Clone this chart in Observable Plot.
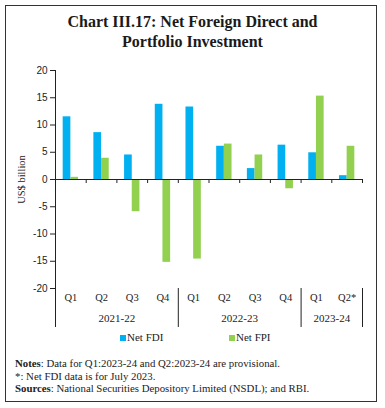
<!DOCTYPE html>
<html><head><meta charset="utf-8">
<script src="https://cdn.jsdelivr.net/npm/d3@7"></script>
<script src="https://cdn.jsdelivr.net/npm/@observablehq/plot@0.6"></script>
<style>
html,body{margin:0;padding:0;background:#fff;}
body{width:385px;height:408px;position:relative;font-family:"Liberation Serif",serif;color:#222;}
#frame{position:absolute;left:5px;top:5px;width:372px;height:397px;border:1px solid #333;box-sizing:border-box;}
#title{position:absolute;left:0;top:12px;width:385px;text-align:center;font-weight:bold;font-size:16px;line-height:20px;color:#1a1a1a;}
#chart{position:absolute;left:0;top:60px;}
#legend{position:absolute;top:331px;left:0;width:385px;font-size:11px;}
#legend span.sw{position:absolute;top:4px;width:6px;height:6px;}
#legend span.lb{position:absolute;top:0;}
#notes{position:absolute;left:15px;top:357px;font-size:10.8px;line-height:12.5px;}
</style>
</head><body>
<div id="frame"></div>
<div id="title">Chart III.17: Net Foreign Direct and<br>Portfolio Investment</div>
<div id="chart"></div>
<div id="legend">
  <span class="sw" style="left:120px;background:#00B0F0"></span><span class="lb" style="left:127px">Net FDI</span>
  <span class="sw" style="left:229px;background:#92D050"></span><span class="lb" style="left:236px">Net FPI</span>
</div>
<div id="notes">
  <div><b>Notes</b>: Data for Q1:2023-24 and Q2:2023-24 are provisional.</div>
  <div>*: Net FDI data is for July 2023.</div>
  <div><b>Sources</b>: National Securities Depository Limited (NSDL); and RBI.</div>
</div>
<script>
const quarters = ["Q1","Q2","Q3","Q4","Q1","Q2","Q3","Q4","Q1","Q2*"];
const years = ["2021-22","2021-22","2021-22","2021-22","2022-23","2022-23","2022-23","2022-23","2023-24","2023-24"];
const netFDI = [11.5, 8.6, 4.5, 13.8, 13.3, 6.1, 2.0, 6.3, 4.9, 0.7];
const netFPI = [0.4, 3.9, -5.9, -15.2, -14.6, 6.5, 4.5, -1.7, 15.3, 6.1];
const seriesNames = ["Net FDI", "Net FPI"];
const seriesColors = ["#00B0F0", "#92D050"];
const yTicks = [-20,-15,-10,-5,0,5,10,15,20];

const idx = quarters.map((_, i) => i);
const rows = [];
idx.forEach(i => {
  rows.push({i, series: seriesNames[0], value: netFDI[i], x1: i - 0.25, x2: i});
  rows.push({i, series: seriesNames[1], value: netFPI[i], x1: i, x2: i + 0.25});
});
const yearGroups = Array.from(d3.group(idx, i => years[i]), ([year, is]) => ({year, center: d3.mean(is), start: d3.min(is) - 0.5, end: d3.max(is) + 0.5}));
const separators = Array.from(new Set(yearGroups.flatMap(g => [g.start, g.end])));
const boundaries = idx.map(i => i + 0.5);

const chart = Plot.plot({
  width: 385,
  height: 275,
  marginTop: 10,
  marginBottom: 47,
  marginLeft: 55,
  marginRight: 23,
  style: {fontFamily: "Liberation Serif, serif", fontSize: "10px", color: "#222", background: "transparent"},
  x: {domain: [-0.5, quarters.length - 0.5], axis: null},
  y: {domain: [-20, 20]},
  color: {domain: seriesNames, range: seriesColors},
  marks: [
    Plot.rectY(rows, {x1: "x1", x2: "x2", y1: 0, y2: "value", fill: "series"}),
    Plot.ruleY([0], {stroke: "#222", strokeWidth: 1}),
    Plot.ruleX(boundaries, {x: d => d, y1: 0, y2: 0, insetBottom: -4, stroke: "#222"}),
    Plot.ruleX([-0.5], {x: d => d, y1: 20, y2: -20, stroke: "#222"}),
    Plot.ruleX(separators, {x: d => d, y1: -20, y2: -20, insetBottom: -39, stroke: "#222", clip: false}),
    Plot.axisY({ticks: yTicks, tickSize: 5, tickPadding: 3, tickFormat: d => String(d),
      fontFamily: "Liberation Sans, sans-serif", fontSize: 10, label: null}),
    Plot.axisY({ticks: [], tickSize: 0, label: "US$ billion", labelAnchor: "center", labelArrow: "none",
      labelOffset: 38, fontFamily: "Liberation Serif, serif", fontSize: 10.5}),
    Plot.text(idx, {x: d => d, text: d => quarters[d], frameAnchor: "bottom", dy: 12, fontSize: 10.5}),
    Plot.text(yearGroups, {x: "center", text: "year", frameAnchor: "bottom", dy: 33, fontSize: 11})
  ]
});
document.getElementById("chart").appendChild(chart);
</script>
</body></html>
